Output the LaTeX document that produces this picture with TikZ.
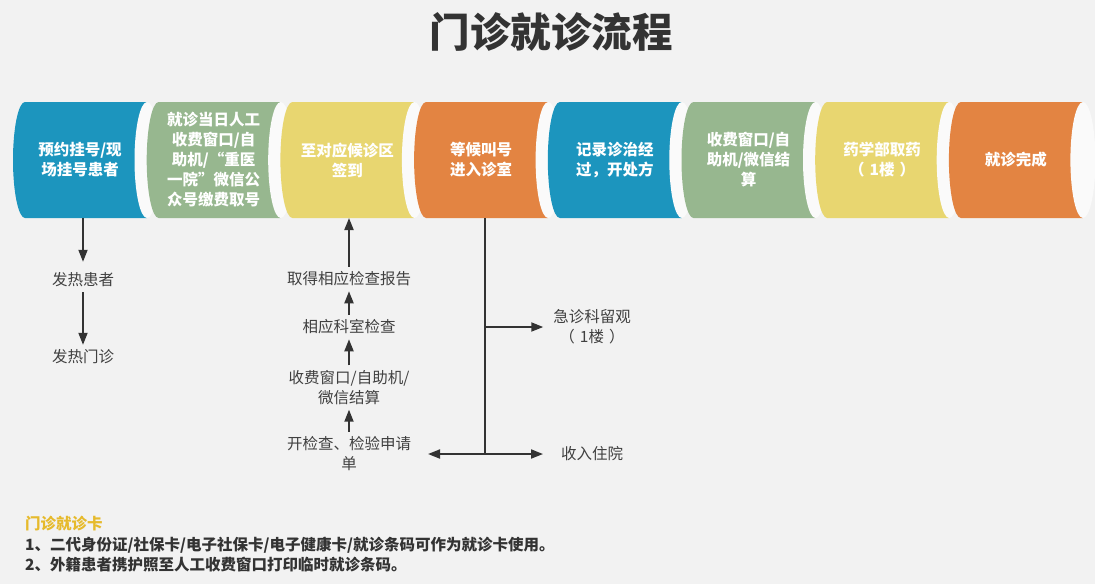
\documentclass[tikz,border=0pt]{standalone}
\usepackage{fontspec}
\setmainfont{Noto Sans CJK SC}
\usetikzlibrary{arrows.meta}
\definecolor{pagegray}{HTML}{F2F2F2}
\definecolor{capwhite}{HTML}{FAFAFA}
\definecolor{stageblue}{HTML}{1C95BE}
\definecolor{stagegreen}{HTML}{97B78F}
\definecolor{stageyellow}{HTML}{E8D670}
\definecolor{stageorange}{HTML}{E38442}
\definecolor{titlegray}{HTML}{333333}
\definecolor{labelgray}{HTML}{404040}
\definecolor{notegold}{HTML}{E6BA2C}
% one stage of the row: #1 = left x, #2 = colour
\newcommand{\stageshape}[2]{%
  \fill[#2] (#1,102) -- (#1+122,102) -- (#1+122,218) -- (#1,218)
    .. controls (#1-6.6,218) and (#1-12,192) .. (#1-12,160)
    .. controls (#1-12,128) and (#1-6.6,102) .. (#1,102) -- cycle;
  \fill[capwhite] (#1+122,160) ellipse [x radius=12.5, y radius=58];
}
\tikzset{
  stagetext/.style={text=white, font=\bfseries\fontsize{15.5}{20}\selectfont, align=center, inner sep=0pt},
  steptext/.style={text=labelgray, font=\fontsize{15.5}{20}\selectfont, align=center, inner sep=0pt, outer sep=5pt},
  notetext/.style={anchor=west, inner sep=0pt, font=\bfseries\fontsize{15.5}{20}\selectfont},
  flowline/.style={draw=titlegray, line width=1.8pt},
  flowarrow/.style={flowline, -{Triangle[length=12pt,width=9pt]}},
}
\begin{document}
\begin{tikzpicture}[x=1pt, y=-1pt]
\useasboundingbox (0,0) rectangle (1095,584);
\fill[pagegray] (0,0) rectangle (1095,584);

\node[text=titlegray, font=\bfseries\fontsize{40.5}{48}\selectfont] (title) at (551,32) {门诊就诊流程};
%
\stageshape{25}{stageblue}
\stageshape{158.7}{stagegreen}
\stageshape{292.4}{stageyellow}
\stageshape{426.1}{stageorange}
\stageshape{559.8}{stageblue}
\stageshape{693.5}{stagegreen}
\stageshape{827.2}{stageyellow}
\stageshape{960.9}{stageorange}

\node[stagetext] (stage1) at (80,160) {预约挂号/现\\场挂号患者};
\node[stagetext] (stage2) at (213.7,160) {就诊当日人工\\收费窗口/自\\助机/“重医\\一院”微信公\\众号缴费取号};
\node[stagetext] (stage3) at (347.4,160) {至对应候诊区\\签到};
\node[stagetext] (stage4) at (481.1,160) {等候叫号\\进入诊室};
\node[stagetext] (stage5) at (614.8,160) {记录诊治经\\过，开处方};
\node[stagetext] (stage6) at (748.5,160) {收费窗口/自\\助机/微信结\\算};
\node[stagetext] (stage7) at (882.2,160) {药学部取药\\（\hspace{5pt}1楼\hspace{5pt}）};
\node[stagetext] (stage8) at (1015.9,160) {就诊完成};

\coordinate (bot1) at (83,218);
\coordinate (bot3) at (349,218);
\coordinate (bot4) at (485,218);

% fever branch
\node[steptext] (fever) at (83,280) {发热患者};
\node[steptext] (feverclinic) at (83,357) {发热门诊};
\draw[flowarrow, shorten >=6pt] (bot1) -- (fever);
\draw[flowarrow] (fever) -- (feverclinic);

% examination loop
\node[steptext] (report) at (349,279) {取得相应检查报告};
\node[steptext] (deptcheck) at (349,327) {相应科室检查};
\node[steptext] (examfee) at (349,387.5) {收费窗口/自助机/\\微信结算};
\node[steptext] (examorder) at (349,454) {开检查、检验申请\\单};
\draw[flowarrow] (examorder) -- (examfee);
\draw[flowarrow] (examfee) -- (deptcheck);
\draw[flowarrow] (deptcheck) -- (report);
\draw[flowarrow] (report) -- (bot3);

% after the doctor
\coordinate (split1) at (485,327);
\coordinate (split2) at (485,454);
\coordinate (ordertip) at (428,454);
\node[steptext, outer sep=10pt] (observe) at (592,327) {急诊科留观\\（\hspace{5pt}1楼\hspace{5pt}）};
\node[steptext, outer sep=18pt] (admit) at (592,454) {收入住院};
\draw[flowline] (bot4) -- (split2);
\draw[flowarrow] (split1) -- (observe.west);
\draw[flowarrow] (split2) -- (admit.west);
\draw[flowarrow] (split2) -- (ordertip);

% note
\node[notetext, text=notegold] (notehead) at (25,524) {门诊就诊卡};
\node[notetext, text=titlegray] (note1) at (25,545) {1、二代身份证/社保卡/电子社保卡/电子健康卡/就诊条码可作为就诊卡使用。};
\node[notetext, text=titlegray] (note2) at (25,565) {2、外籍患者携护照至人工收费窗口打印临时就诊条码。};
\end{tikzpicture}
\end{document}
